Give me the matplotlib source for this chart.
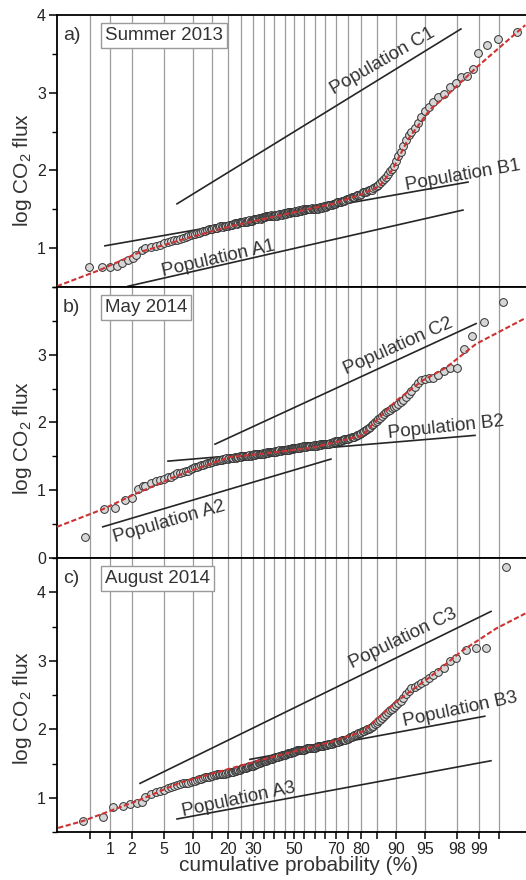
import math
from statistics import NormalDist

import numpy as np
import matplotlib
matplotlib.use('Agg')
import matplotlib.pyplot as plt
from matplotlib.ticker import FixedLocator, MultipleLocator, NullFormatter

plt.rcParams['font.family'] = ['Liberation Sans', 'DejaVu Sans']
plt.rcParams['mathtext.fontset'] = 'custom'
plt.rcParams['mathtext.rm'] = 'Liberation Sans'
plt.rcParams['mathtext.default'] = 'regular'

# probability axis (%)
major_pct = [1, 2, 5, 10, 20, 30, 50, 70, 80, 90, 95, 98, 99]
minor_pct = [0.5, 15, 25, 35, 40, 45, 55, 60, 65, 75, 85, 99.5]

# cumulative probability of the central observations (%)
mid_pct = [3, 4, 5, 6, 7, 8, 9, 10, 11, 12, 13, 14, 15, 16, 17, 18, 19, 20,
           21, 22, 23, 24, 25, 26, 27, 28, 29, 30, 31, 32, 33, 34, 35, 36, 37,
           38, 39, 40, 41, 42, 43, 44, 45, 46, 47, 48, 49, 50, 51, 52, 53, 54,
           55, 56, 57, 58, 59, 60, 61, 62, 63, 64, 65, 66, 67, 68, 69, 70, 71,
           72, 73, 74, 75, 76, 77, 78, 79, 80, 81, 82, 83, 84, 85, 86, 87, 88,
           89, 90, 91, 92, 93, 94, 95, 96, 97]
half_pct = [3.5, 4.5, 5.5, 6.5, 7.5, 8.5, 9.5, 10.5, 11.5, 12.5, 13.5, 14.5,
            15.5, 16.5, 17.5, 18.5, 19.5, 20.5, 21.5, 22.5, 23.5, 24.5, 25.5,
            26.5, 27.5, 28.5, 29.5, 30.5, 31.5, 32.5, 33.5, 34.5, 35.5, 36.5,
            37.5, 38.5, 39.5, 40.5, 41.5, 42.5, 43.5, 44.5, 45.5, 46.5, 47.5,
            48.5, 49.5, 50.5, 51.5, 52.5, 53.5, 54.5, 55.5, 56.5, 57.5, 58.5,
            59.5, 60.5, 61.5, 62.5, 63.5, 64.5, 65.5, 66.5, 67.5, 68.5, 69.5,
            70.5, 71.5, 72.5, 73.5, 74.5, 75.5, 76.5, 77.5, 78.5, 79.5, 80.5,
            81.5, 82.5, 83.5, 84.5, 85.5, 86.5, 87.5, 88.5, 89.5, 90.5, 91.5,
            92.5, 93.5, 94.5, 95.5, 96.5]

# --- a) Summer 2013
pct_a = [0.48, 0.76, 1.0, 1.25, 1.5, 1.8, 2.1, 2.3, 2.7] + mid_pct + half_pct + \
        [97.5, 97.9, 98.2, 98.5, 98.8, 98.96, 99.25, 99.49, 99.75]
val_a = [0.76, 0.76, 0.76, 0.77, 0.81, 0.85, 0.87, 0.91, 0.97,
         # mid
         1.00, 1.03, 1.06, 1.09, 1.11, 1.13, 1.15, 1.18, 1.19, 1.21,
         1.22, 1.24, 1.25, 1.26, 1.27, 1.28, 1.28, 1.29, 1.30, 1.31,
         1.32, 1.32, 1.33, 1.34, 1.34, 1.35, 1.35, 1.36, 1.37, 1.38,
         1.39, 1.39, 1.40, 1.41, 1.41, 1.42, 1.42, 1.42, 1.43, 1.43,
         1.44, 1.44, 1.45, 1.45, 1.46, 1.46, 1.46, 1.47, 1.47, 1.48,
         1.48, 1.49, 1.49, 1.50, 1.50, 1.51, 1.51, 1.51, 1.52, 1.52,
         1.53, 1.53, 1.54, 1.54, 1.55, 1.56, 1.57, 1.58, 1.59, 1.60,
         1.61, 1.62, 1.63, 1.64, 1.66, 1.67, 1.69, 1.70, 1.72, 1.73,
         1.75, 1.77, 1.80, 1.84, 1.89, 1.95, 2.02, 2.12, 2.24, 2.39,
         2.49, 2.61, 2.76, 2.88, 2.98,
         # half
         1.02, 1.04, 1.08, 1.10, 1.12, 1.14, 1.17, 1.18, 1.20, 1.22,
         1.23, 1.24, 1.26, 1.26, 1.28, 1.27, 1.29, 1.30, 1.30, 1.32,
         1.31, 1.33, 1.33, 1.35, 1.34, 1.36, 1.35, 1.37, 1.37, 1.39,
         1.38, 1.40, 1.40, 1.42, 1.41, 1.43, 1.41, 1.43, 1.42, 1.44,
         1.43, 1.45, 1.44, 1.46, 1.45, 1.47, 1.46, 1.48, 1.47, 1.49,
         1.48, 1.50, 1.49, 1.51, 1.50, 1.52, 1.51, 1.52, 1.51, 1.53,
         1.52, 1.54, 1.53, 1.55, 1.55, 1.57, 1.57, 1.59, 1.59, 1.61,
         1.61, 1.63, 1.63, 1.66, 1.66, 1.69, 1.69, 1.72, 1.72, 1.75,
         1.75, 1.79, 1.81, 1.87, 1.91, 1.99, 2.06, 2.18, 2.31, 2.45,
         2.54, 2.69, 2.81, 2.94,
         # upper tail
         3.07, 3.12, 3.20, 3.21, 3.30, 3.51, 3.61, 3.69, 3.78]
fit_pct_a = [0.137, 0.71, 2.57, 9.4, 20.8, 47.7, 68.6, 80.6, 85.9, 89.3, 92.4,
             95.6, 97.3, 98.93, 99.82]
fit_val_a = [0.51, 0.72, 0.95, 1.14, 1.28, 1.45, 1.57, 1.70, 1.80, 2.02, 2.40,
             2.78, 2.97, 3.33, 3.87]
pop_a = {'A1': ([1.79, 98.32], [0.51, 1.49]),
         'B1': ([0.84, 98.57], [1.03, 1.85]),
         'C1': ([6.92, 98.21], [1.57, 3.82])}
lab_a = {'A1': (16.7, 0.87, 13), 'B1': (98.3, 1.94, 10), 'C1': (86.8, 3.40, 30)}

# --- b) May 2014
pct_b = [0.41, 0.80, 1.18, 1.63, 2.02, 2.42, 2.8] + mid_pct + half_pct + \
        [97.5, 97.98, 98.37, 98.74, 99.16, 99.57]
val_b = [0.31, 0.72, 0.74, 0.85, 0.89, 1.02, 1.07,
         # mid
         1.07, 1.13, 1.17, 1.20, 1.25, 1.27, 1.29, 1.33, 1.35, 1.37,
         1.39, 1.40, 1.42, 1.43, 1.44, 1.45, 1.46, 1.46, 1.47, 1.48,
         1.48, 1.49, 1.49, 1.50, 1.50, 1.51, 1.51, 1.52, 1.52, 1.53,
         1.53, 1.54, 1.54, 1.55, 1.55, 1.56, 1.56, 1.57, 1.57, 1.58,
         1.58, 1.59, 1.59, 1.60, 1.60, 1.61, 1.61, 1.62, 1.62, 1.63,
         1.63, 1.64, 1.64, 1.64, 1.65, 1.65, 1.66, 1.66, 1.66, 1.67,
         1.67, 1.68, 1.68, 1.68, 1.69, 1.70, 1.71, 1.71, 1.72, 1.73,
         1.74, 1.75, 1.76, 1.77, 1.78, 1.80, 1.81, 1.84, 1.87, 1.90,
         1.93, 1.98, 2.02, 2.07, 2.12, 2.17, 2.21, 2.25, 2.30, 2.37,
         2.47, 2.58, 2.64, 2.66, 2.76,
         # half
         1.11, 1.15, 1.19, 1.22, 1.26, 1.29, 1.31, 1.34, 1.36, 1.38,
         1.40, 1.41, 1.43, 1.44, 1.45, 1.46, 1.47, 1.47, 1.48, 1.49,
         1.49, 1.50, 1.50, 1.51, 1.51, 1.52, 1.52, 1.53, 1.53, 1.54,
         1.54, 1.55, 1.55, 1.56, 1.56, 1.57, 1.57, 1.58, 1.58, 1.59,
         1.59, 1.60, 1.60, 1.61, 1.61, 1.62, 1.62, 1.63, 1.63, 1.64,
         1.64, 1.65, 1.65, 1.65, 1.66, 1.66, 1.67, 1.67, 1.67, 1.68,
         1.68, 1.69, 1.69, 1.69, 1.70, 1.71, 1.72, 1.72, 1.73, 1.74,
         1.75, 1.76, 1.77, 1.78, 1.79, 1.81, 1.83, 1.86, 1.89, 1.92,
         1.96, 2.00, 2.05, 2.10, 2.15, 2.19, 2.23, 2.28, 2.33, 2.42,
         2.53, 2.62, 2.65, 2.70,
         # upper tail
         2.81, 2.81, 3.09, 3.27, 3.49, 3.78]
fit_pct_b = [0.137, 0.78, 2.08, 7.98, 20.8, 34.6, 59.2, 80.6, 83.9, 90.0, 94.7,
             97.2, 98.9, 99.82]
fit_val_b = [0.46, 0.72, 0.93, 1.25, 1.49, 1.54, 1.63, 1.81, 1.98, 2.32, 2.62,
             2.81, 3.16, 3.54]
pop_b = {'A2': ([0.78, 67.7], [0.46, 1.46]),
         'B2': ([5.53, 98.86], [1.43, 1.81]),
         'C2': ([15.8, 98.9], [1.68, 3.46])}
lab_b = {'A2': (5.67, 0.53, 16), 'B2': (97.2, 1.93, 6), 'C2': (90.4, 3.12, 24)}

# --- c) August 2014
pct_c = [0.38, 0.79, 1.10, 1.53, 1.90, 2.35, 2.72] + mid_pct + half_pct + \
        [97.5, 97.9, 98.47, 98.90, 99.21, 99.62]
val_c = [0.66, 0.72, 0.87, 0.88, 0.91, 0.93, 0.94,
         # mid
         1.01, 1.08, 1.12, 1.15, 1.19, 1.21, 1.22, 1.24, 1.26, 1.28,
         1.30, 1.31, 1.32, 1.33, 1.34, 1.35, 1.35, 1.36, 1.37, 1.38,
         1.39, 1.40, 1.42, 1.43, 1.44, 1.45, 1.46, 1.47, 1.48, 1.50,
         1.51, 1.52, 1.53, 1.54, 1.55, 1.56, 1.57, 1.58, 1.59, 1.60,
         1.61, 1.62, 1.63, 1.64, 1.65, 1.66, 1.67, 1.67, 1.68, 1.69,
         1.69, 1.70, 1.70, 1.71, 1.72, 1.72, 1.73, 1.73, 1.74, 1.75,
         1.75, 1.76, 1.77, 1.77, 1.78, 1.79, 1.80, 1.81, 1.82, 1.83,
         1.84, 1.85, 1.86, 1.88, 1.90, 1.92, 1.94, 1.96, 1.98, 2.00,
         2.02, 2.05, 2.09, 2.14, 2.19, 2.25, 2.30, 2.36, 2.41, 2.51,
         2.60, 2.64, 2.71, 2.79, 2.90,
         # half
         1.05, 1.10, 1.14, 1.17, 1.20, 1.22, 1.23, 1.25, 1.27, 1.29,
         1.31, 1.32, 1.33, 1.34, 1.35, 1.35, 1.36, 1.37, 1.38, 1.39,
         1.40, 1.41, 1.43, 1.44, 1.45, 1.46, 1.47, 1.48, 1.49, 1.51,
         1.52, 1.53, 1.54, 1.55, 1.56, 1.57, 1.58, 1.59, 1.60, 1.61,
         1.62, 1.63, 1.64, 1.65, 1.66, 1.67, 1.67, 1.68, 1.69, 1.69,
         1.70, 1.70, 1.71, 1.72, 1.72, 1.73, 1.73, 1.74, 1.75, 1.75,
         1.76, 1.77, 1.77, 1.78, 1.79, 1.80, 1.81, 1.82, 1.83, 1.84,
         1.85, 1.86, 1.87, 1.89, 1.91, 1.93, 1.95, 1.97, 1.99, 2.01,
         2.04, 2.07, 2.12, 2.17, 2.22, 2.28, 2.33, 2.39, 2.46, 2.56,
         2.62, 2.67, 2.75, 2.84,
         # upper tail
         3.00, 3.04, 3.15, 3.18, 3.19, 4.37]
fit_pct_c = [0.144, 0.38, 2.57, 7.4, 34.6, 67.3, 80.6, 90.0, 95.6, 98.3, 99.45,
             99.82]
fit_val_c = [0.56, 0.66, 0.97, 1.22, 1.56, 1.81, 1.97, 2.40, 2.76, 3.15, 3.47,
             3.69]
pop_c = {'A3': ([6.92, 99.34], [0.69, 1.54]),
         'B3': ([28.7, 99.18], [1.56, 2.19]),
         'C3': ([2.57, 99.34], [1.21, 3.72])}
lab_c = {'A3': (24.2, 0.97, 12), 'B3': (98.15, 2.29, 12), 'C3': (91.4, 3.32, 26)}

panels = [
    ('a)', 'Summer 2013', pct_a, val_a, fit_pct_a, fit_val_a, pop_a, lab_a,
     (0.5, 4.0), [1, 2, 3, 4], 0.430),
    ('b)', 'May 2014', pct_b, val_b, fit_pct_b, fit_val_b, pop_b, lab_b,
     (0.0, 4.0), [0, 1, 2, 3], 0.443),
    ('c)', 'August 2014', pct_c, val_c, fit_pct_c, fit_val_c, pop_c, lab_c,
     (0.5, 4.5), [1, 2, 3, 4], 0.453),
]

# normal probability scale
_norm = NormalDist()
_ppf = np.vectorize(_norm.inv_cdf, otypes=[float])
_cdf = np.vectorize(_norm.cdf, otypes=[float])


def to_z(pct):
    p = np.clip(np.asarray(pct, dtype=float) / 100.0, 1e-6, 1 - 1e-6)
    return _ppf(p)


def from_z(z):
    return 100.0 * _cdf(np.asarray(z, dtype=float))


W, H = 526, 880
fig = plt.figure(figsize=(W / 100, H / 100), dpi=100)

# axes boxes in pixels: (top, bottom)
boxes = [(15, 287), (287, 558), (558, 832)]
left_px = 57

txt_col = '#333333'

for i, (tag, title, pct, val, fpct, fval, pops, labs, ylim, yt, ylab_y) in enumerate(panels):
    top, bot = boxes[i]
    ax = fig.add_axes([left_px / W, 1 - bot / H, 1 - left_px / W, (bot - top) / H])
    ax.set_xscale('function', functions=(to_z, from_z))
    ax.set_xlim(0.137, 99.825)
    ax.set_ylim(*ylim)

    ax.xaxis.set_major_locator(FixedLocator(major_pct))
    ax.xaxis.set_minor_locator(FixedLocator(minor_pct))
    ax.xaxis.set_minor_formatter(NullFormatter())
    ax.set_xticklabels([f'{p:g}' for p in major_pct])
    ax.grid(True, axis='x', which='both', color='#9c9c9c', lw=0.9)
    ax.set_axisbelow(True)

    for name, (xs, ys) in pops.items():
        ax.plot(xs, ys, color='#262626', lw=1.2, zorder=2)
        lx, ly, rot = labs[name]
        ax.text(lx, ly, f'Population {name}', fontsize=13.5, color=txt_col,
                rotation=rot, rotation_mode='anchor', ha='center', va='center')

    # observations in rank order
    order = np.argsort(pct)
    ax.plot(np.asarray(pct)[order], np.asarray(val)[order], 'o', ms=5.6,
            mfc='#d6d6d6', mec='#303030', mew=0.7, zorder=3, clip_on=False)
    ax.plot(fpct, fval, color='#cc3333', lw=1.5, ls=(0, (2.5, 1.2)), zorder=4)

    ax.set_yticks(yt)
    ax.yaxis.set_minor_locator(MultipleLocator(0.5))
    ax.tick_params(axis='y', which='major', direction='out', length=6, width=1.1,
                   labelsize=11.5, pad=2, labelcolor='#222222')
    ax.tick_params(axis='y', which='minor', direction='out', length=3.5, width=1.0)
    ax.set_ylabel('log CO$_2$ flux', fontsize=15, color=txt_col)
    ax.yaxis.set_label_coords(-0.049, ylab_y)

    for s in ('left', 'top', 'bottom'):
        ax.spines[s].set_linewidth(1.3)
    ax.spines['right'].set_visible(False)

    ax.text(0.013, 0.924, tag, transform=ax.transAxes, fontsize=14,
            color=txt_col, ha='left', va='center')
    ax.text(0.102, 0.924, title, transform=ax.transAxes, fontsize=13.5,
            color=txt_col, ha='left', va='center',
            bbox=dict(boxstyle='square,pad=0.22', fc='white', ec='#9a9a9a', lw=1))

    if i < 2:
        ax.tick_params(axis='x', which='both', length=0, labelbottom=False)
    else:
        ax.tick_params(axis='x', which='both', direction='out', length=5,
                       width=1.1, labelsize=11.5, pad=2, labelcolor='#222222')
        ax.set_xlabel('cumulative probability (%)', fontsize=15, color=txt_col)
        ax.xaxis.set_label_coords(0.516, -0.088)

fig.savefig('out.png', dpi=100)
